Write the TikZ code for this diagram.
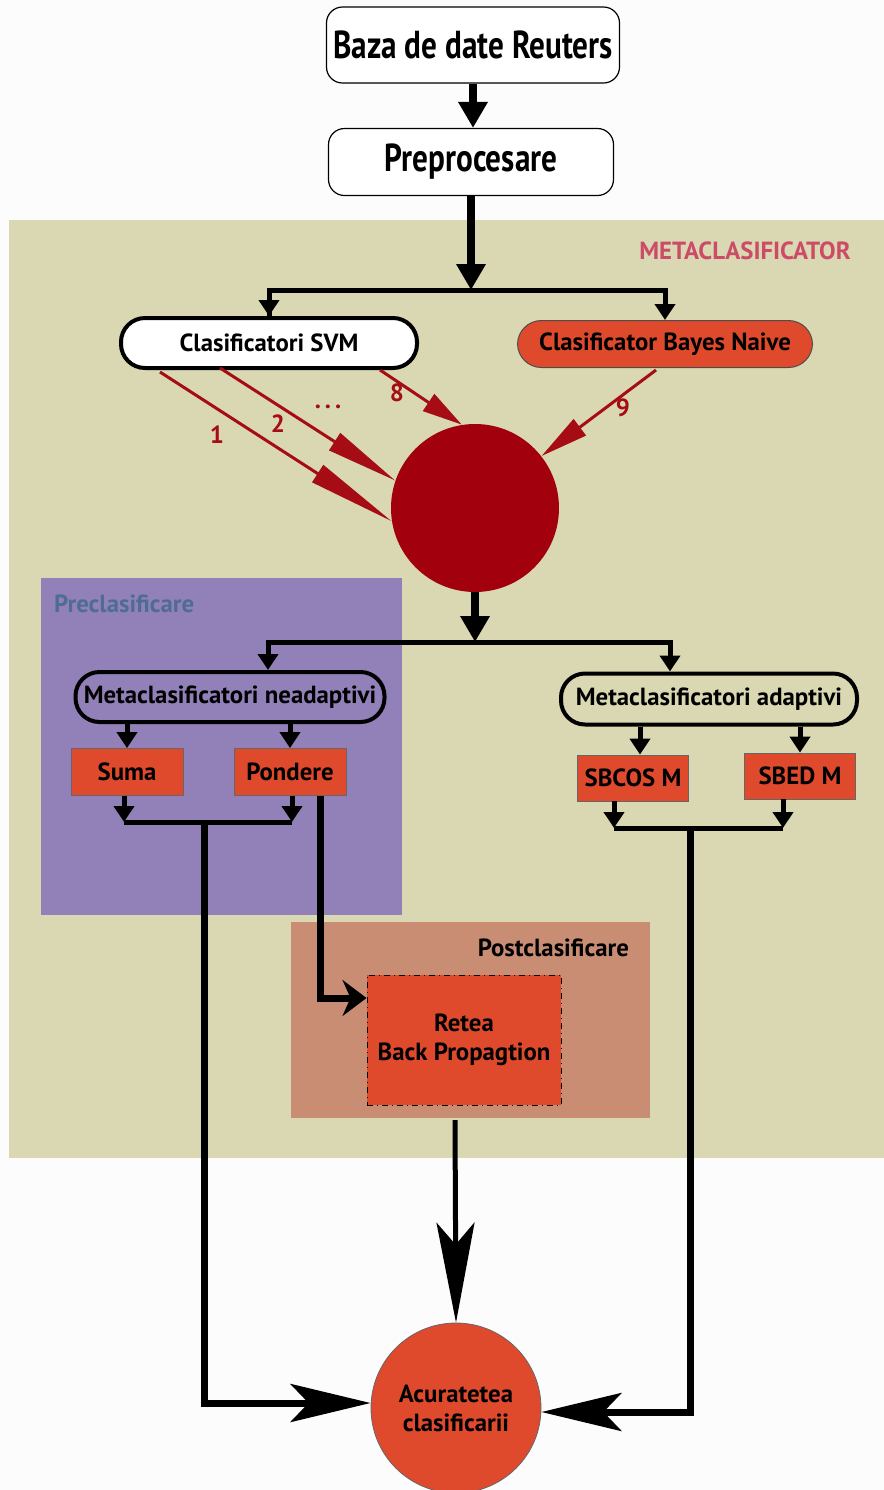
\documentclass[tikz,border=0pt]{standalone}
\usepackage{fontspec}
\setmainfont{PT Sans}
\newfontfamily\condfont[FakeStretch=0.8]{PT Sans}
\usetikzlibrary{arrows.meta}

\definecolor{pagebg}{RGB}{252,252,252}
\definecolor{khaki}{RGB}{217,216,178}
\definecolor{prebg}{RGB}{146,129,185}
\definecolor{postbg}{RGB}{201,141,116}
\definecolor{boxred}{RGB}{224,74,44}
\definecolor{hubred}{RGB}{162,0,12}
\definecolor{linkred}{RGB}{165,12,20}
\definecolor{metalabel}{RGB}{204,76,104}
\definecolor{prelabel}{RGB}{78,108,150}

\begin{document}
\begin{tikzpicture}[x=0.5pt,y=-0.5pt,
  font=\bfseries,
  txt/.style={font=\bfseries\fontsize{12.4}{15}\selectfont},
  topbox/.style={draw=black, line width=0.6pt, fill=white, rounded corners=8pt,
    inner sep=0pt, font=\condfont\bfseries\fontsize{19.5}{22}\selectfont},
  pill/.style={txt, draw=black, line width=2pt, rounded corners=12pt, inner sep=0pt,
    minimum height=25pt},
  redbox/.style={txt, draw=black!60, line width=0.4pt, fill=boxred, inner sep=0pt},
  bigarr/.style={line width=4pt, -{Triangle[length=13pt,width=14pt]}},
  midarr/.style={line width=2.5pt, -{Triangle[length=8pt,width=10pt]}},
  barline/.style={line width=2.5pt},
  redarr/.style={line width=1.5pt, draw=linkred, fill=linkred},
  redlabel/.style={txt, text=linkred},
  longline/.style={line width=3.5pt},
  finalarr/.style={-{Stealth[length=40pt,width=19pt,inset=9pt]}},
]
\useasboundingbox (0,0) rectangle (884,1490);
\fill[pagebg] (0,0) rectangle (884,1490);

% regions
\fill[khaki] (9,220) rectangle (884,1158);
\fill[prebg] (41,578) rectangle (402,915);
\fill[postbg] (291,922) rectangle (650,1118);
\node[txt, text=metalabel] (metal) at (745,251) {METACLASIFICATOR};
\node[txt, text=prelabel, anchor=west] (prel) at (47,604) {Preclasificare};
\node[txt, anchor=east] (postl) at (636,948) {Postclasificare};

% top chain
\node[topbox, minimum width=146.5pt, minimum height=38pt] (baza) at (473,45) {Baza de date Reuters};
\node[topbox, minimum width=142.5pt, minimum height=33.5pt] (prep) at (471,162) {Preprocesare};
\draw[bigarr] (baza.south -| 473,0) -- (prep.north -| 473,0);

% first split
\node[pill, fill=white, minimum width=148pt] (svm) at (269,343) {Clasificatori SVM};
\node[pill, fill=boxred, line width=0.5pt, draw=black!70, minimum width=147.5pt, minimum height=23.5pt] (bayes) at (665,344) {Clasificator Bayes Naive};
\coordinate (b1) at (471,290);
\draw[bigarr] (prep.south) -- (b1);
\draw[barline] (b1) -| (svm.north);
\draw[midarr] (b1) -| (bayes.north);
\draw[midarr] (svm.north |- b1) -- (svm.north);

% combining node and its nine inputs
\node[circle, fill=hubred, minimum size=84pt, inner sep=0pt] (hub) at (475,508) {};
\coordinate (s1) at (160,372);
\coordinate (s2) at (220,368);
\coordinate (s8) at (380,370);
\coordinate (s9) at (656,370);
\draw[redarr, -{Triangle[length=44pt,width=10pt]}] (s1) -- (hub.189);
\draw[redarr, -{Triangle[length=36pt,width=10pt]}] (s2) -- (hub.161);
\draw[redarr, -{Triangle[length=20pt,width=10pt]}] (s8) -- (hub.99);
\draw[redarr, -{Triangle[length=24pt,width=10pt]}] (s9) -- (hub.38);
\node[redlabel] (l1) at (217,435) {1};
\node[redlabel] (l2) at (278,424) {2};
\node[redlabel] (ldots) at (328,407) {.\kern2pt.\kern2pt.};
\node[redlabel] (l8) at (397,393) {8};
\node[redlabel] (l9) at (623,408) {9};

% second split
\node[pill, minimum width=154.5pt] (nead) at (230,697) {Metaclasificatori neadaptivi};
\node[pill, minimum width=148pt, minimum height=25.5pt] (adap) at (709,699) {Metaclasificatori adaptivi};
\coordinate (b2) at (475,642);
\draw[bigarr] (hub.south) -- (b2);
\draw[midarr] (b2) -| ([xshift=19pt]nead.north);
\draw[midarr] (b2) -| ([xshift=-19.5pt]adap.north);

% simple combiners
\node[redbox, minimum width=56pt, minimum height=23.5pt] (suma) at (127,772) {Suma};
\node[redbox, minimum width=56pt, minimum height=23.5pt] (pond) at (290,772) {Pondere};
\draw[midarr] (nead.south -| suma.north) -- (suma.north);
\draw[midarr] (nead.south -| pond.north) -- (pond.north);

% adaptive combiners
\node[redbox, minimum width=55.5pt, minimum height=23pt] (sbcos) at (633,778) {SBCOS M};
\node[redbox, minimum width=55.5pt, minimum height=23pt] (sbed) at (800,776) {SBED M};
\draw[midarr] ([xshift=3.5pt]adap.south -| sbcos.north) -- ([xshift=3.5pt]sbcos.north);
\draw[midarr] (adap.south -| sbed.north) -- (sbed.north);

% joins below the combiners
\coordinate (j1) at (204,822);
\draw[midarr] ([xshift=-1.5pt]suma.south) -- ([xshift=-1.5pt]suma.south |- j1);
\draw[midarr] ([xshift=1pt]pond.south) -- ([xshift=1pt]pond.south |- j1);
\draw[barline] ([xshift=-1.5pt]suma.south |- j1) -- ([xshift=1pt]pond.south |- j1);

\coordinate (j2) at (690,828);
\draw[midarr] ([xshift=-9.5pt]sbcos.south) -- ([xshift=-9.5pt]sbcos.south |- j2);
\draw[midarr] ([xshift=-8.5pt]sbed.south) -- ([xshift=-8.5pt]sbed.south |- j2);
\draw[barline] ([xshift=-9.5pt]sbcos.south |- j2) -- ([xshift=-8.5pt]sbed.south |- j2);

% post-classification network
\node[redbox, draw=black, line width=0.5pt, dash dot, minimum width=97pt, minimum height=65pt,
  align=center, font=\bfseries\fontsize{12.4}{14.5}\selectfont] (ret) at (464,1040) {Retea\\Back Propagtion};
\draw[longline, -{Stealth[length=12pt,width=18pt,inset=4pt]}] ([xshift=15pt]pond.south) |- ([yshift=21pt]ret.west);

% final accuracy node
\node[circle, fill=boxred, draw=black!60, line width=0.4pt, minimum size=85pt, inner sep=0pt,
  align=center, font=\bfseries\fontsize{12.4}{14.5}\selectfont] (acc) at (456,1408) {Acuratetea\\clasificarii};
\coordinate (r1) at (455,1120);
\draw[line width=2.5pt, -{Stealth[length=50pt,width=19pt,inset=11pt]}] (r1) -- (acc.north);
\draw[longline, finalarr] (j1) |- ([yshift=2.5pt]acc.west);
\draw[longline, finalarr] (j2) |- ([yshift=-2pt]acc.east);
\end{tikzpicture}
\end{document}
